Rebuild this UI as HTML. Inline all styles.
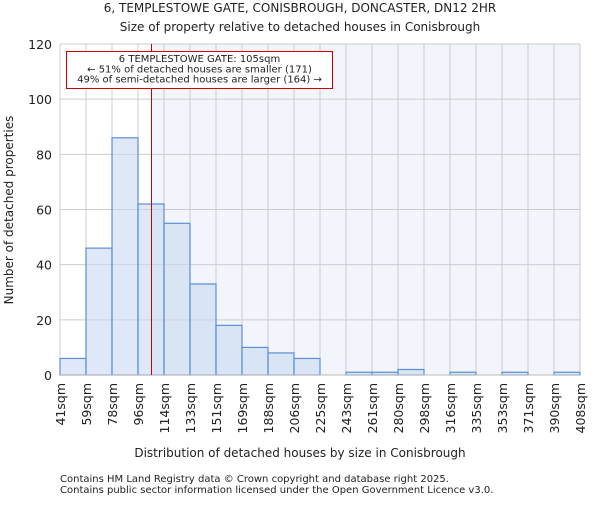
<!DOCTYPE html>
<html><head><meta charset="utf-8"><style>
body{margin:0;background:#fff}
svg text{font-family:"DejaVu Sans","Liberation Sans",sans-serif;fill:#222}
</style></head><body>
<svg id="c" width="600" height="500">
<text x="300" y="12" font-size="12" text-anchor="middle">6, TEMPLESTOWE GATE, CONISBROUGH, DONCASTER, DN12 2HR</text>
<text x="300" y="31" font-size="12" text-anchor="middle">Size of property relative to detached houses in Conisbrough</text>
<g id="plot"></g>
<text x="300" y="457" font-size="12" text-anchor="middle">Distribution of detached houses by size in Conisbrough</text>
<text transform="translate(13,210) rotate(-90)" font-size="12" text-anchor="middle">Number of detached properties</text>
<text x="60" y="482" font-size="10">Contains HM Land Registry data © Crown copyright and database right 2025.</text>
<text x="60" y="493" font-size="10">Contains public sector information licensed under the Open Government Licence v3.0.</text>
</svg>
<script>
const binLabels=["41sqm","59sqm","78sqm","96sqm","114sqm","133sqm","151sqm","169sqm","188sqm","206sqm","225sqm","243sqm","261sqm","280sqm","298sqm","316sqm","335sqm","353sqm","371sqm","390sqm","408sqm"];
const binEdges=[41,59,78,96,114,133,151,169,188,206,225,243,261,280,298,316,335,353,371,390,408];
const counts=[6,46,86,62,55,33,18,10,8,6,0,1,1,2,0,1,0,1,0,1];
const yTicks=[0,20,40,60,80,100,120];
const propertySize=105;
const L=60,R=580,T=44,B=375,yMax=120;
const NS="http://www.w3.org/2000/svg";
const g=document.getElementById('plot');
const n=counts.length;
const xi=i=>L+(R-L)*i/n;
const xv=v=>{for(let i=0;i<binEdges.length-1;i++){if(v<=binEdges[i+1])return xi(i)+(v-binEdges[i])/(binEdges[i+1]-binEdges[i])*(xi(i+1)-xi(i));}return R;};
const y=v=>B-(B-T)*v/yMax;
function mk(t,a){const e=document.createElementNS(NS,t);for(const k in a)e.setAttribute(k,a[k]);g.appendChild(e);return e;}
const px=Math.round(xv(propertySize))+0.5;
let e=mk('rect',{x:px,y:T,width:R-px,height:B-T,fill:'#f2f5fc'});


for(let i=0;i<=n;i++){e=mk('line',{x1:xi(i),x2:xi(i),y1:T,y2:B,stroke:'#cccccc'});

}
yTicks.forEach(t=>{e=mk('line',{x1:L,x2:R,y1:y(t),y2:y(t),stroke:'#cccccc'});


e=mk('text',{x:L-8,y:y(t)+5,'font-size':12.5,'text-anchor':'end'});e.textContent=t;

});
counts.forEach((c,i)=>{if(c<=0)return;e=mk('rect',{x:xi(i),y:y(c),width:xi(i+1)-xi(i),height:B-y(c),fill:'rgba(200,216,240,0.6)',stroke:'#5b8fd6','stroke-width':1.2});

});
e=mk('line',{x1:L,x2:R,y1:B,y2:B,stroke:'#bbbbbb'});


binLabels.forEach((l,i)=>{const x=xi(i);e=mk('text',{transform:`translate(${x+5},${B+8}) rotate(-90)`,'font-size':12.5,'text-anchor':'end'});e.textContent=l;

});
e=mk('line',{x1:px,x2:px,y1:T,y2:B,stroke:'#cc0000','stroke-width':1});


e=mk('rect',{x:66.5,y:51.5,width:266,height:37,fill:'#fff',stroke:'#cc0000','stroke-width':1});


["6 TEMPLESTOWE GATE: 105sqm","← 51% of detached houses are smaller (171)","49% of semi-detached houses are larger (164) →"].forEach((s,i)=>{e=mk('text',{x:199.5,y:62+i*10.3,'font-size':10,'text-anchor':'middle'});e.textContent=s;

});
</script>
</body></html>
